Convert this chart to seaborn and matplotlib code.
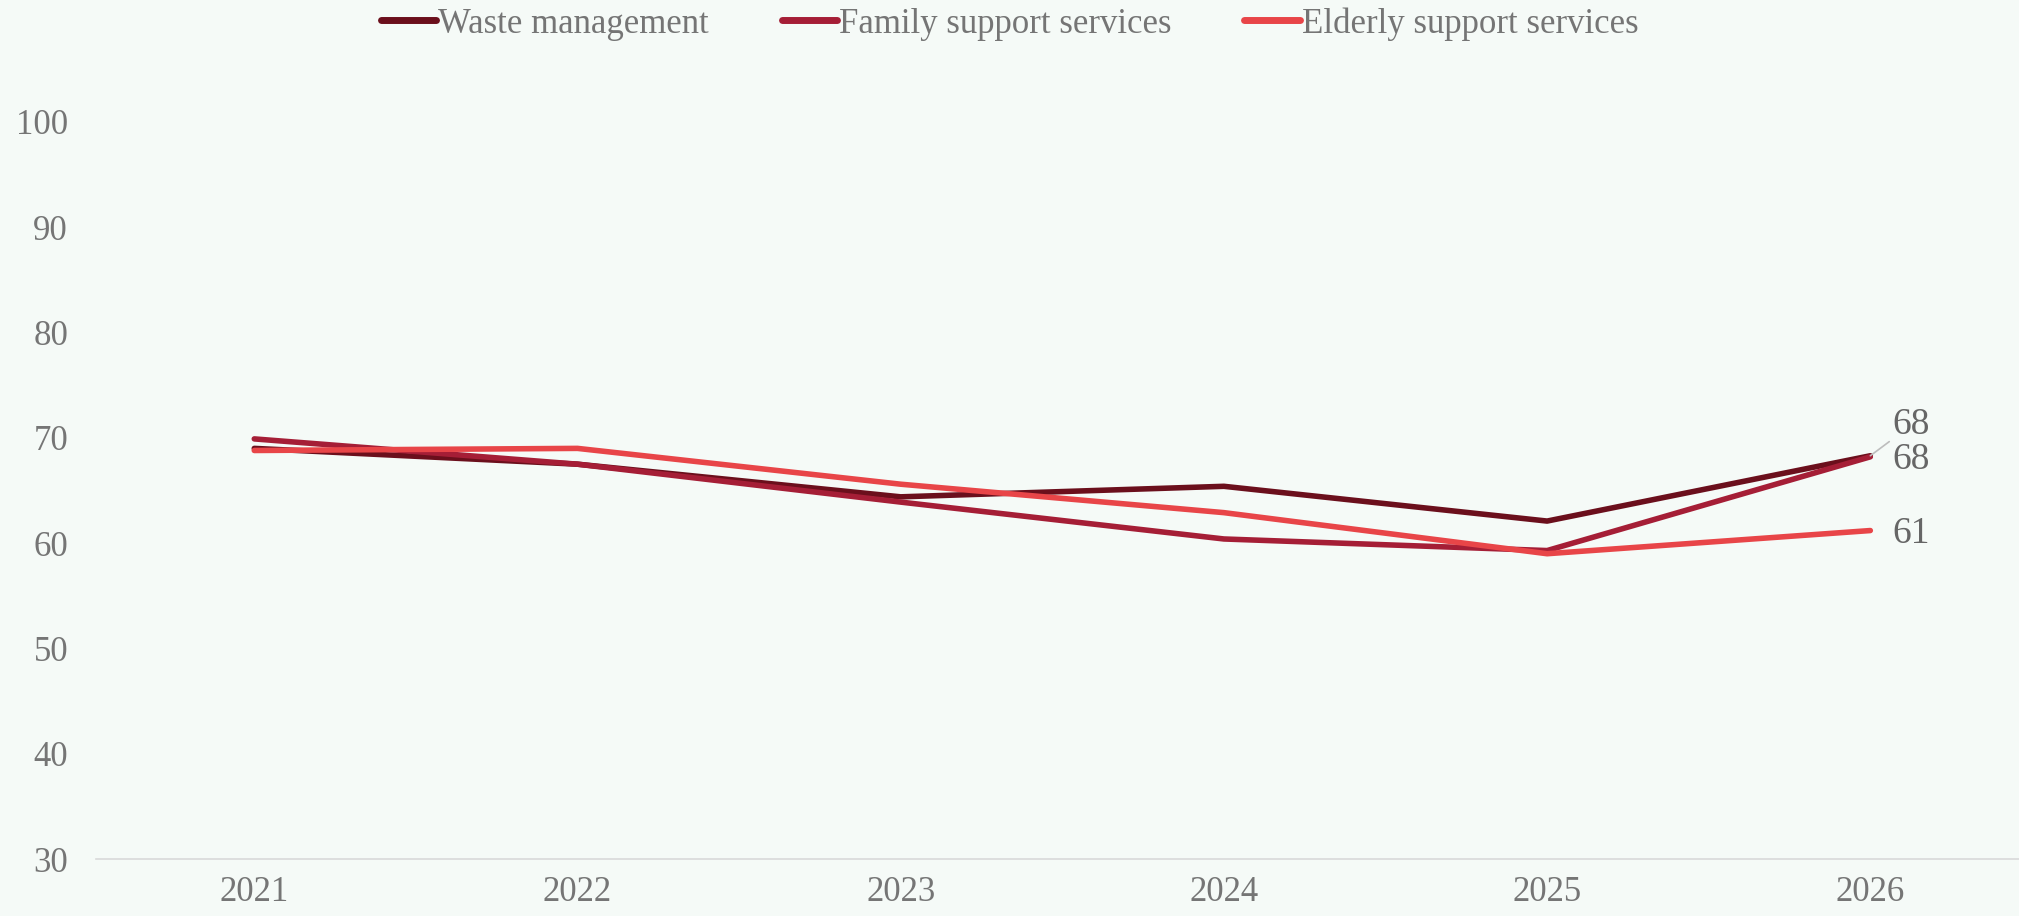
import pandas as pd
import matplotlib.pyplot as plt
import seaborn as sns

years = ['2021', '2022', '2023', '2024', '2025', '2026']
waste = [69.0, 67.5, 64.4, 65.4, 62.1, 68.3]
family = [69.9, 67.5, 63.9, 60.4, 59.3, 68.2]
elderly = [68.8, 69.0, 65.6, 62.9, 59.0, 61.2]
series_names = ['Waste management', 'Family support services', 'Elderly support services']
end_labels = ['68', '68', '61']

colors = ['#6b0f1c', '#a51e36', '#e84548']
bg = '#f5faf7'
text_col = '#757575'

# long form for seaborn
rows = []
for name, vals in zip(series_names, [waste, family, elderly]):
    for y, v in zip(years, vals):
        rows.append({'year': y, 'value': v, 'series': name})
df = pd.DataFrame(rows)

sns.set_style('white')
plt.rcParams['font.family'] = ['Liberation Serif', 'DejaVu Serif']

fig = plt.figure(figsize=(20.19, 9.16), dpi=100, facecolor=bg)
ax = fig.add_axes([0.0475, 0.062, 0.9525, 0.805])
ax.set_facecolor(bg)

sns.lineplot(data=df, x='year', y='value', hue='series', palette=colors,
             linewidth=4, ax=ax, legend=False, sort=False,
             solid_capstyle='round')

ax.set_ylim(30, 100)
ax.set_xlim(-0.49, 5.46)
ax.set_yticks(range(30, 101, 10))
ax.set_xlabel('')
ax.set_ylabel('')
ax.tick_params(axis='both', length=0, labelsize=25, colors=text_col)
ax.tick_params(axis='x', pad=12)
ax.tick_params(axis='y', pad=20)
for s in ['top', 'right', 'left']:
    ax.spines[s].set_visible(False)
ax.spines['bottom'].set_color('#d9d9d9')
ax.spines['bottom'].set_linewidth(1.2)

# end-point labels
last = len(years) - 1
offsets = [(16, 22), (16, -2), (16, -2)]
for vals, lab, off in zip([waste, family, elderly], end_labels, offsets):
    kw = {}
    if off[1] > 10:
        kw['arrowprops'] = dict(arrowstyle='-', color='#bdbdbd', lw=1.2,
                                shrinkA=0, shrinkB=0)
    ax.annotate(lab, xy=(last, vals[-1]), xytext=off, textcoords='offset points',
                ha='left', va='center', fontsize=27, color='#666666', **kw)

handles = [plt.Line2D([], [], color=c, lw=5, solid_capstyle='round') for c in colors]
fig.legend(handles, series_names, loc='center', bbox_to_anchor=(0.5, 0.974),
           ncol=3, frameon=False, fontsize=25, labelcolor=text_col,
           handlelength=1.6, handletextpad=0.05, columnspacing=2.1)

fig.savefig('out.png', dpi=100, facecolor=bg)
